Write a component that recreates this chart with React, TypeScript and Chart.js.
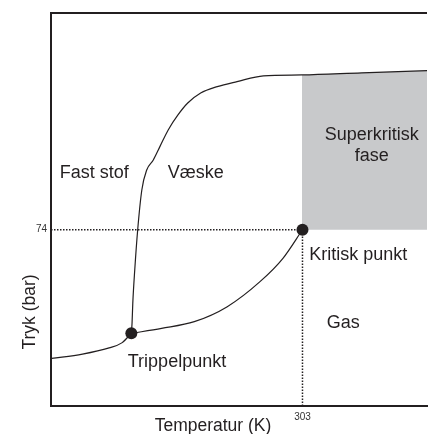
import React, { useEffect, useRef } from "react";
import { Chart, registerables } from "chart.js";

Chart.register(...registerables);

// Axis ranges and ticks
const tempRange = [200, 354];
const pressRange = [0, 165];
const tempTicks = [303];
const pressTicks = [74];

// Critical and triple points
const criticalPoint = { x: 303, y: 74 };
const triplePoint = { x: 232.9, y: 30.5 };

// Phase boundary curves (T in K, P in bar)
const sublimationT = [200.3, 212.9, 223.8, 229.0, 232.9];
const sublimationP = [20.0, 21.8, 24.4, 26.5, 30.5];

const vaporT = [232.9, 245.3, 258.7, 272.2, 285.6, 295.0, 303];
const vaporP = [30.5, 32.6, 35.4, 41.7, 52.2, 62.0, 74];

const meltT = [232.9, 233.2, 233.5, 234.3, 235.5, 237.2, 239.2, 241.9, 244.6, 248.0, 252.0, 256.0, 261.3, 268.1, 276.2, 287.0, 302.8, 327.3, 354.1];
const meltP = [30.5, 34.8, 43.2, 57.1, 73.9, 90.7, 99.1, 103.3, 108.9, 115.9, 122.2, 127.2, 131.4, 134.1, 136.2, 138.6, 139.0, 139.9, 140.8];

// Region labels
const regionLabels = [
  { text: "Fast stof", x: 217.7, y: 97.8 },
  { text: "Væske", x: 259.3, y: 97.8 },
  { text: "Superkritisk", x: 331.4, y: 113.8 },
  { text: "fase", x: 331.4, y: 105.0 },
  { text: "Kritisk punkt", x: 325.8, y: 63.4 },
  { text: "Gas", x: 319.7, y: 34.8 },
  { text: "Trippelpunkt", x: 251.6, y: 18.5 },
];

const xTitle = "Temperatur (K)";
const yTitle = "Tryk (bar)";

const INK = "#231f20";
const FONT = "'Liberation Sans', Arial, sans-serif";

const zip = (xs: number[], ys: number[]) => xs.map((x, i) => ({ x, y: ys[i] }));

export default function App() {
  const ref = useRef<HTMLCanvasElement>(null);

  useEffect(() => {
    document.body.style.margin = "0";
    const canvas = ref.current!;
    const superT = meltT.filter((t) => t >= criticalPoint.x - 0.5);
    const superP = meltP.slice(meltT.length - superT.length);

    const framePlugin = {
      id: "frameAndLabels",
      afterDatasetsDraw(chart: any) {
        const { ctx, chartArea, scales } = chart;
        ctx.save();
        ctx.strokeStyle = INK;
        ctx.lineWidth = 2;
        ctx.beginPath();
        ctx.moveTo(chartArea.left - 1, chartArea.top);
        ctx.lineTo(chartArea.right, chartArea.top);
        ctx.stroke();
        ctx.fillStyle = INK;
        ctx.font = `18px ${FONT}`;
        ctx.textAlign = "center";
        ctx.textBaseline = "middle";
        for (const l of regionLabels) {
          ctx.fillText(l.text, scales.x.getPixelForValue(l.x), scales.y.getPixelForValue(l.y));
        }
        ctx.restore();
      },
      afterDraw(chart: any) {
        const { ctx, chartArea } = chart;
        ctx.save();
        ctx.fillStyle = INK;
        ctx.font = `17.5px ${FONT}`;
        ctx.textAlign = "center";
        ctx.textBaseline = "alphabetic";
        ctx.fillText(xTitle, chartArea.left + 162, chartArea.bottom + 25);
        ctx.translate(chartArea.left - 16, chartArea.top + 299);
        ctx.rotate(-Math.PI / 2);
        ctx.fillText(yTitle, 0, 0);
        ctx.restore();
      },
    };

    const curve = (label: string, data: { x: number; y: number }[]) => ({
      label,
      data,
      borderColor: INK,
      borderWidth: 1.2,
      pointRadius: 0,
      cubicInterpolationMode: "monotone",
      fill: false,
    });

    const chart = new Chart(canvas, {
      type: "line",
      data: {
        datasets: [
          {
            label: "points",
            data: [triplePoint, criticalPoint],
            showLine: false,
            pointRadius: 6,
            pointBackgroundColor: INK,
            pointBorderColor: INK,
            pointBorderWidth: 0,
          },
          curve("melt", zip(meltT, meltP)),
          curve("vapor", zip(vaporT, vaporP)),
          curve("sublimation", zip(sublimationT, sublimationP)),
          {
            label: "h-guide",
            data: [
              { x: tempRange[0], y: criticalPoint.y },
              { x: criticalPoint.x, y: criticalPoint.y },
            ],
            borderColor: INK,
            borderWidth: 1.5,
            borderDash: [1.5, 1.5],
            pointRadius: 0,
            fill: false,
          },
          {
            label: "v-guide",
            data: [
              { x: criticalPoint.x, y: pressRange[0] },
              { x: criticalPoint.x, y: criticalPoint.y },
            ],
            borderColor: INK,
            borderWidth: 1.5,
            borderDash: [1.5, 1.5],
            pointRadius: 0,
            fill: false,
          },
          {
            label: "supercritical",
            data: zip(superT, superP),
            borderWidth: 0,
            borderColor: "rgba(0,0,0,0)",
            backgroundColor: "#c8c9cb",
            pointRadius: 0,
            cubicInterpolationMode: "monotone",
            fill: { value: criticalPoint.y },
          },
        ],
      },
      options: {
        responsive: false,
        animation: false,
        devicePixelRatio: 1,
        layout: { padding: { top: 13, left: 0, right: 0, bottom: 0 } },
        plugins: {
          legend: { display: false },
          tooltip: { enabled: false },
        },
        scales: {
          x: {
            type: "linear",
            min: tempRange[0],
            max: tempRange[1],
            grid: { display: false, drawTicks: false },
            border: { display: true, color: INK, width: 2 },
            afterBuildTicks: (s: any) => {
              s.ticks = tempTicks.map((v) => ({ value: v }));
            },
            afterFit: (s: any) => {
              s.height = 28;
            },
            ticks: {
              autoSkip: false,
              maxRotation: 0,
              padding: 5,
              color: "#333",
              font: { family: FONT, size: 10 },
              callback: (v: any) => String(v),
            },
          },
          y: {
            type: "linear",
            min: pressRange[0],
            max: pressRange[1],
            grid: { display: false, drawTicks: false },
            border: { display: true, color: INK, width: 2 },
            afterBuildTicks: (s: any) => {
              s.ticks = pressTicks.map((v) => ({ value: v }));
            },
            afterFit: (s: any) => {
              s.width = 51;
            },
            ticks: {
              autoSkip: false,
              padding: 4,
              color: "#333",
              font: { family: FONT, size: 10 },
              callback: (v: any) => String(v),
            },
          },
        },
      },
      plugins: [framePlugin],
    } as any);

    return () => chart.destroy();
  }, []);

  return (
    <canvas
      ref={ref}
      width={433}
      height={434}
      style={{ display: "block", position: "absolute", left: 0, top: 0 }}
    />
  );
}
